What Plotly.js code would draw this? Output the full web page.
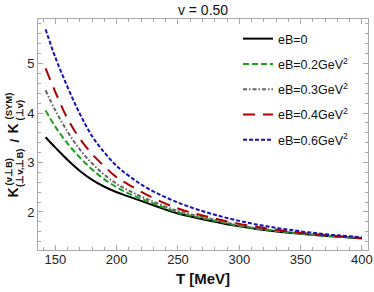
<!DOCTYPE html>
<html><head><meta charset="utf-8">
<script src="https://cdn.plot.ly/plotly-3.0.1.min.js"></script>
<style>html,body{margin:0;padding:0;background:#fff}#chart{width:374px;height:292px}</style>
</head><body><div id="chart"></div>
<script>
var T = [142,150,160,170,180,190,200,210,225,250,275,300,325,350,375,400];
var eB0  = [3.51,3.30,3.05,2.83,2.65,2.51,2.40,2.31,2.18,1.97,1.83,1.71,1.62,1.56,1.51,1.47];
var eB02 = [4.05,3.72,3.38,3.10,2.86,2.66,2.50,2.37,2.22,1.99,1.85,1.72,1.63,1.56,1.51,1.47];
var eB03 = [4.46,4.05,3.62,3.26,2.98,2.75,2.57,2.43,2.26,2.02,1.87,1.73,1.64,1.57,1.52,1.47];
var eB04 = [4.90,4.42,3.88,3.48,3.17,2.92,2.70,2.55,2.34,2.07,1.90,1.76,1.66,1.58,1.52,1.47];
var eB06 = [5.69,5.12,4.52,3.98,3.53,3.20,2.93,2.73,2.48,2.19,1.98,1.82,1.70,1.61,1.54,1.49];
var names = ['eB=0','eB=0.2GeV<sup>2</sup>','eB=0.3GeV<sup>2</sup>','eB=0.4GeV<sup>2</sup>','eB=0.6GeV<sup>2</sup>'];
var xTicks = [150,200,250,300,350,400];
var yTicks = [2,3,4,5];

var series = [eB0,eB02,eB03,eB04,eB06];
var styles = [
  {color:'#000000', dash:'solid', width:2},
  {color:'#1aa31a', dash:'6px,3px', width:2},
  {color:'#666666', dash:'4px,2px,1.5px,2px', width:2},
  {color:'#b00000', dash:'12px,8px', width:2},
  {color:'#1414b4', dash:'4px,2px', width:2}
];
var data = series.map(function(s,i){
  return {x:T, y:s, type:'scatter', mode:'lines', name:names[i], legendgroup:'g'+i,
    line:{color:styles[i].color, dash:styles[i].dash, width:styles[i].width, shape:'spline'}};
});

var L=38, R=6, TOP=19, B=42, W=374, H=292;
var pw=W-L-R, ph=H-TOP-B;
function px(x){return (x-L)/pw;}
function py(y){return (H-B-y)/ph;}
var f = 'Liberation Sans, Arial, sans-serif';
function ann(text,x,y,size){
  return {text:text, xref:'paper', yref:'paper', x:px(x), y:py(y), showarrow:false, textangle:-90,
    xanchor:'center', yanchor:'bottom', borderpad:0, font:{family:f,size:size,color:'#111'}};
}
var annotations = [
  ann('<b>K</b>',12.5,199,14),
  ann('<b>(v⊥B)</b>',8,187,9.5),
  ann('<b>(⊥v,⊥B)</b>',19,188,9.5),
  ann('<b>/</b>',13.5,143,13),
  ann('<b>K</b>',12.5,135,14),
  ann('<b>(SYM)</b>',8,121,9.5),
  ann('<b>(⊥v)</b>',19,122,9.5)
];

var axisCommon = {showgrid:false, zeroline:false, showline:true, mirror:'allticks', linecolor:'#a8a8a8', linewidth:1,
  ticks:'inside', ticklen:5, tickcolor:'#a8a8a8', tickwidth:1,
  tickfont:{family:f,size:13,color:'#222'}};
var layout = {
  width:W, height:H, margin:{l:L,r:R,t:TOP,b:B,pad:0},
  paper_bgcolor:'#fff', plot_bgcolor:'#fff',
  title:{text:'v = 0.50', x:0.5, xref:'paper', y:1-10/H, yref:'container', yanchor:'middle', font:{family:f,size:14,color:'#111'}},
  xaxis:Object.assign({}, axisCommon, {range:[135.8,405], tickmode:'linear', tick0:xTicks[0], dtick:xTicks[1]-xTicks[0],
    minor:{dtick:10, ticks:'inside', ticklen:3, tickcolor:'#a8a8a8'}, ticklabelstandoff:-3,
    title:{text:'<b>T [MeV]</b>', font:{family:f,size:15,color:'#111'}, standoff:7}}),
  yaxis:Object.assign({}, axisCommon, {range:[1.232,5.9], tickmode:'linear', tick0:yTicks[0], dtick:yTicks[1]-yTicks[0],
    minor:{dtick:0.2, ticks:'inside', ticklen:3, tickcolor:'#a8a8a8'}, ticklabelstandoff:0}),
  showlegend:true,
  legend:{x:px(238), y:py(24), xanchor:'left', yanchor:'top', bgcolor:'rgba(0,0,0,0)', borderwidth:0,
    font:{family:f,size:12.5,color:'#111'}, tracegroupgap:6, itemwidth:30},
  annotations:annotations
};
Plotly.newPlot('chart', data, layout, {staticPlot:true, displayModeBar:false});
</script></body></html>
